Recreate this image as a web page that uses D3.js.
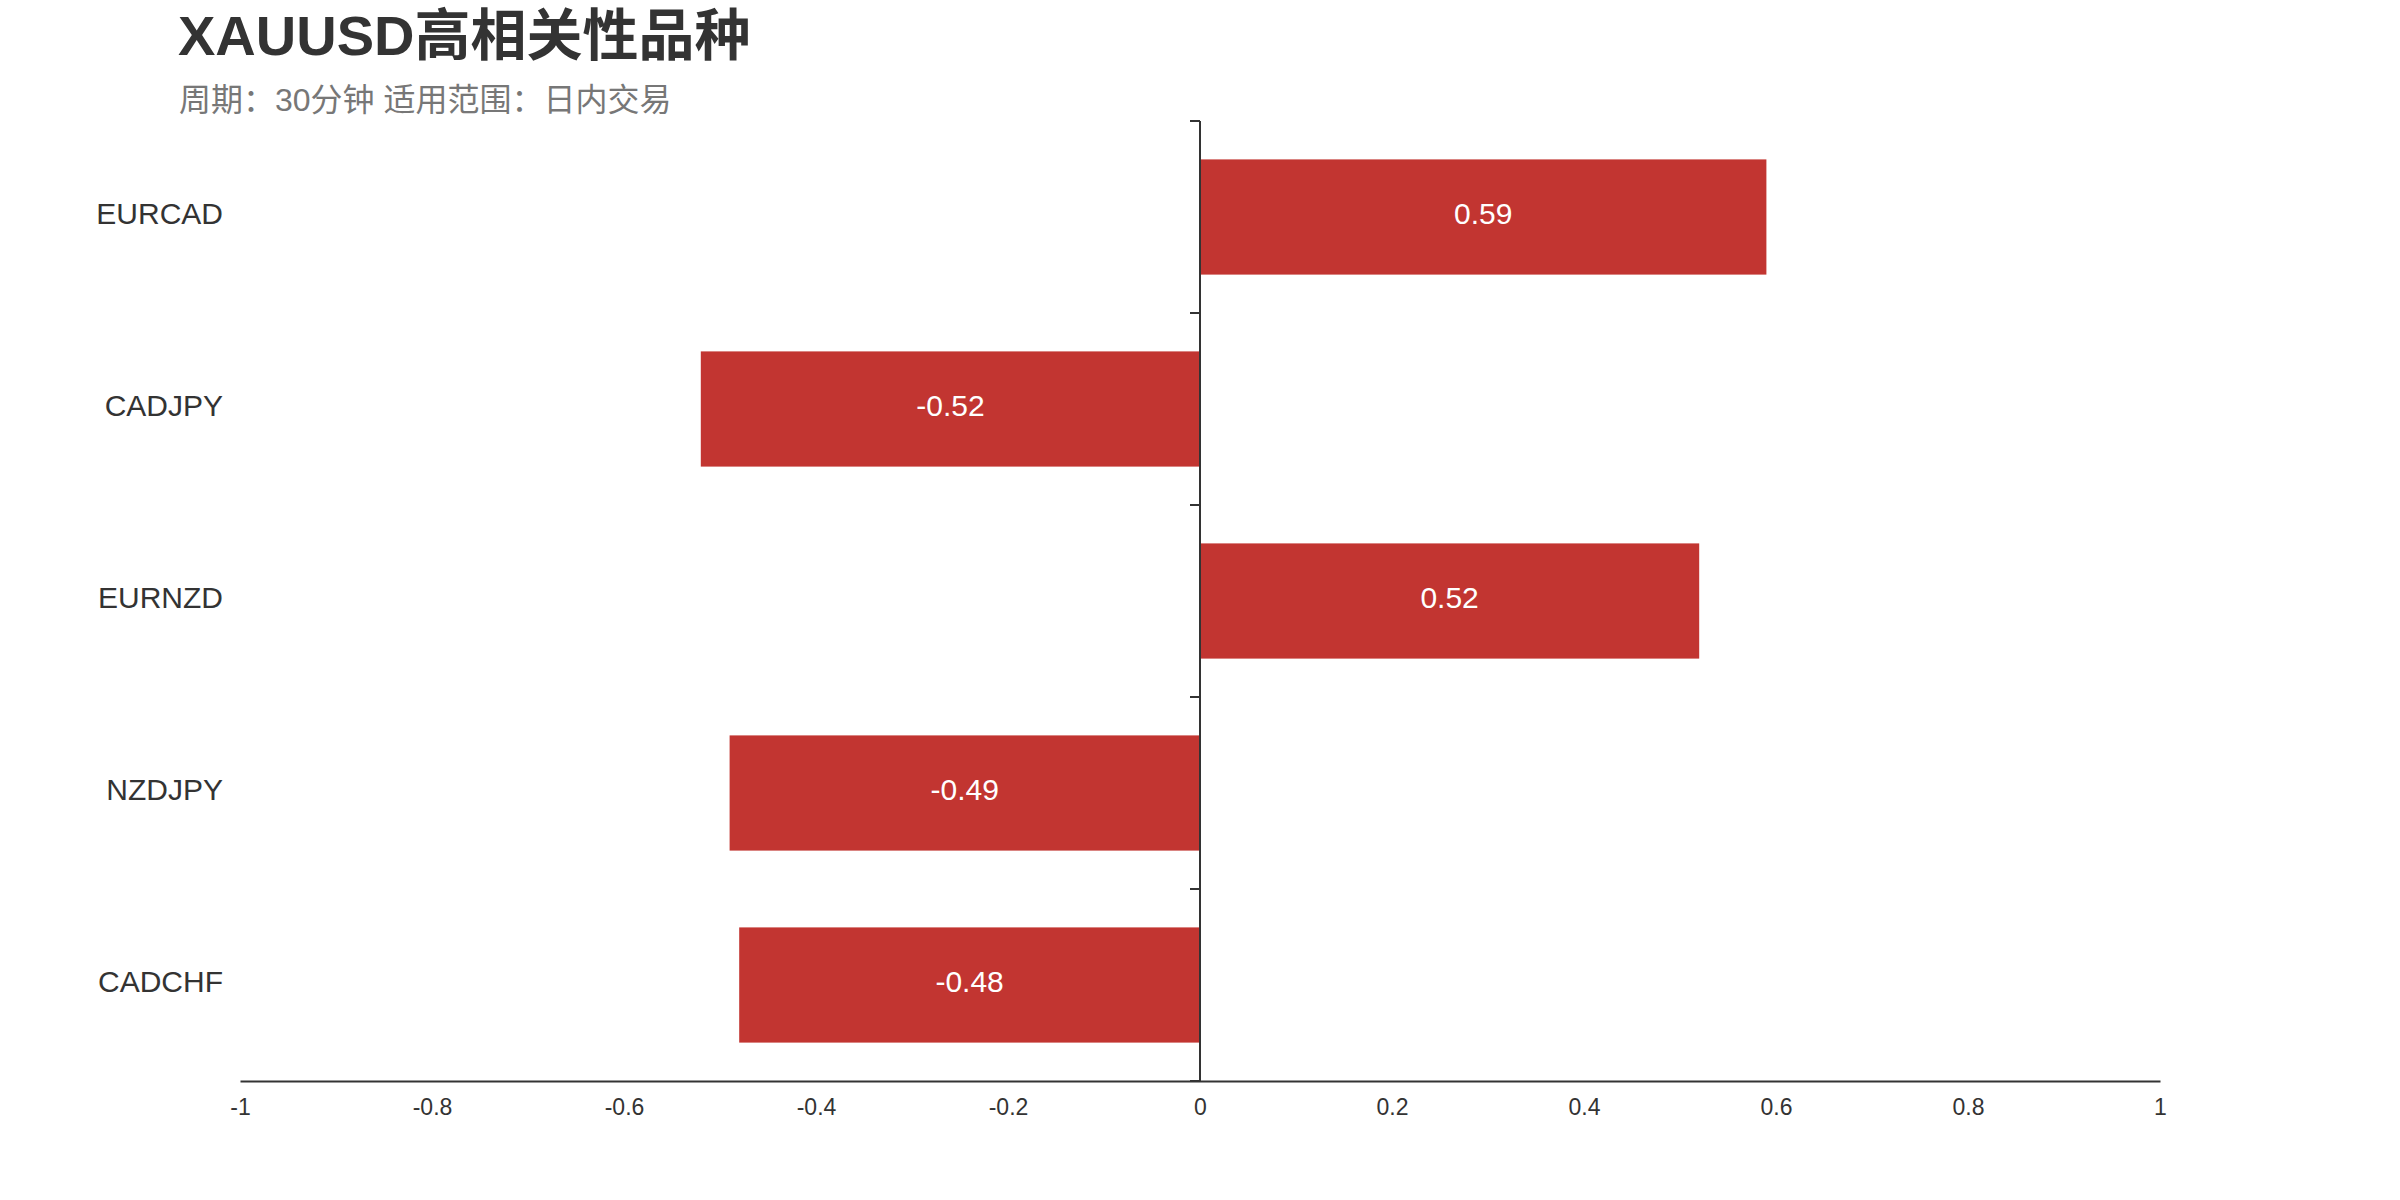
<!DOCTYPE html>
<html>
<head>
<meta charset="utf-8">
<script src="https://cdn.jsdelivr.net/npm/d3@7"></script>
<style>
  body { margin: 0; background: #fff; }
  text { font-family: "Liberation Sans", Arial, "Noto Sans CJK SC", sans-serif; }
</style>
</head>
<body>
<script>
// Chart data
var symbols = ['EURCAD', 'CADJPY', 'EURNZD', 'NZDJPY', 'CADCHF'];
var correlations = [0.59, -0.52, 0.52, -0.49, -0.48];
var xTicks = [-1, -0.8, -0.6, -0.4, -0.2, 0, 0.2, 0.4, 0.6, 0.8, 1];

var titleText = 'XAUUSD高相关性品种';
var subtitleText = '周期：30分钟 适用范围：日内交易';

// Sizes
var svg_width = 2400;
var svg_height = 1200;
var plot_left = 240;
var plot_right = 2160;
var plot_top = 121;
var plot_bottom = 1081;

var bar_color = '#c23531';
var axis_color = '#333';

var svg = d3.select('body').append('svg')
  .attr('width', svg_width)
  .attr('height', svg_height);

// Scales
var x = d3.scaleLinear().domain([-1, 1]).range([plot_left, plot_right]);
var y = d3.scaleBand()
  .domain(symbols)
  .range([plot_top, plot_bottom])
  .paddingInner(0.4)
  .paddingOuter(0.2);

// Title and subtitle
svg.append('text')
  .attr('x', 178)
  .attr('y', 55)
  .attr('fill', '#333')
  .attr('font-size', 56)
  .attr('font-weight', 'bold')
  .text(titleText);

svg.append('text')
  .attr('x', 179)
  .attr('y', 111)
  .attr('fill', '#777')
  .attr('font-size', 32)
  .text(subtitleText);

// Bars
svg.selectAll('rect.bar')
  .data(correlations)
  .enter()
  .append('rect')
  .attr('class', 'bar')
  .attr('x', function(d) { return x(Math.min(0, d)); })
  .attr('y', function(d, i) { return y(symbols[i]); })
  .attr('width', function(d) { return Math.abs(x(d) - x(0)); })
  .attr('height', y.bandwidth())
  .attr('fill', bar_color);

// Value labels inside the bars
svg.selectAll('text.value-label')
  .data(correlations)
  .enter()
  .append('text')
  .attr('class', 'value-label')
  .attr('x', function(d) { return (x(d) + x(0)) / 2; })
  .attr('y', function(d, i) { return y(symbols[i]) + y.bandwidth() / 2 + 7; })
  .attr('text-anchor', 'middle')
  .attr('fill', '#fff')
  .attr('font-size', 30)
  .text(function(d) { return d; });

// X axis: line and labels, no tick marks
var xAxis = svg.append('g')
  .attr('transform', 'translate(0,' + plot_bottom + ')')
  .call(d3.axisBottom(x).tickValues(xTicks).tickSize(0).tickPadding(34)
    .tickFormat(function(d) { return String(d); }));
xAxis.select('.domain').attr('stroke', axis_color).attr('stroke-width', 2);
xAxis.selectAll('text')
  .attr('font-size', 23)
  .attr('fill', axis_color)
  .attr('dy', 0)
  .attr('font-family', '"Liberation Sans", Arial, sans-serif');

// Y axis at zero: line with ticks on band boundaries
var bounds = symbols.map(function(s) { return y(s) - y.step() * y.paddingInner() / 2; });
bounds.push(plot_bottom);

svg.append('line')
  .attr('x1', x(0)).attr('x2', x(0))
  .attr('y1', plot_top).attr('y2', plot_bottom)
  .attr('stroke', axis_color)
  .attr('stroke-width', 2);

svg.selectAll('line.y-tick')
  .data(bounds)
  .enter()
  .append('line')
  .attr('class', 'y-tick')
  .attr('x1', x(0) - 10).attr('x2', x(0))
  .attr('y1', function(d) { return d; })
  .attr('y2', function(d) { return d; })
  .attr('stroke', axis_color)
  .attr('stroke-width', 2);

// Category labels on the left
svg.selectAll('text.y-label')
  .data(symbols)
  .enter()
  .append('text')
  .attr('class', 'y-label')
  .attr('x', 223)
  .attr('y', function(d) { return y(d) + y.bandwidth() / 2 + 7; })
  .attr('text-anchor', 'end')
  .attr('fill', axis_color)
  .attr('font-size', 30)
  .text(function(d) { return d; });
</script>
</body>
</html>
